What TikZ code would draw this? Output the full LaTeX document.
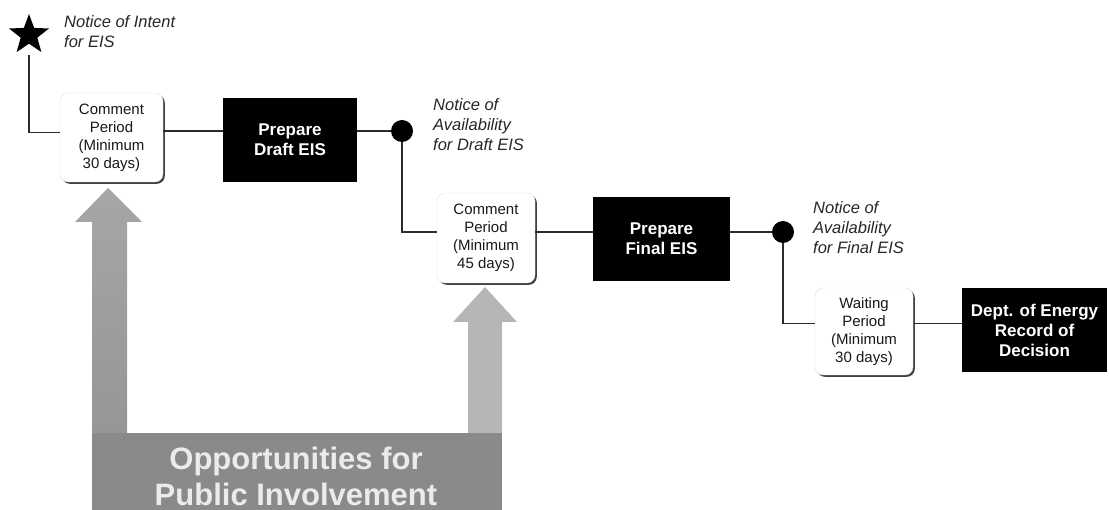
\documentclass[tikz,border=0pt]{standalone}
\usepackage{fontspec}
\setmainfont{Liberation Sans}
\usepackage{xcolor}
\definecolor{LinkGray}{HTML}{2B2B2B}
\definecolor{BandGray}{HTML}{8A8A8A}
\definecolor{ShaftGray}{HTML}{969696}
\definecolor{HeadGray}{HTML}{A6A6A6}
\definecolor{RightGray}{HTML}{B6B6B6}
\usetikzlibrary{positioning,shapes.geometric,shadows}

\begin{document}
\begin{tikzpicture}[
  x=1pt, y=-1pt,
  period/.style={rounded corners=8pt, fill=white, draw=black!12, minimum width=98pt, minimum height=88pt, align=center, text=black!90, font=\fontsize{15}{18}\selectfont, drop shadow={shadow xshift=1.8pt, shadow yshift=-1.8pt, fill=black!75, opacity=1}},
  task/.style={fill=black, minimum width=136pt, minimum height=84pt, align=center, text=white, font=\bfseries\fontsize{17}{20}\selectfont},
  milestone/.style={circle, fill=black, minimum size=22pt, inner sep=0pt},
  notice/.style={anchor=west, align=left, inner sep=0pt, text=black!85, font=\itshape\fontsize{16.5}{20}\selectfont},
  link/.style={line width=1.8pt, draw=LinkGray},
]
\useasboundingbox (0,0) rectangle (1109,510);

% public involvement band and arrows
\fill[BandGray] (92,433) rectangle (502,510);
\shade[top color=HeadGray, bottom color=ShaftGray] (92,433) -- (92,222) -- (75,222) -- (108,188) -- (142,222) -- (127,222) -- (127,433) -- cycle;
\fill[RightGray] (468,433) -- (468,322) -- (453,322) -- (485,287) -- (517,322) -- (502,322) -- (502,433) -- cycle;
\node[font=\bfseries\fontsize{31}{36}\selectfont, text=white!92!black, align=center] (opp) at (296,476) {Opportunities for\\Public Involvement};

% steps
\node[star, star points=5, star point ratio=2.4, fill=black, minimum size=42pt, inner sep=0pt] (intent) at (29,35) {};
\node[notice] (intentlbl) at (64,32) {Notice of Intent\\for EIS};
\node[period, minimum width=103pt, minimum height=89pt] (cpdraft) at (111.5,137.5) {Comment\\Period\\(Minimum\\30 days)};
\node[task, minimum width=134pt] (draft) at (290,140) {Prepare\\Draft EIS};
\node[milestone] (nadraft) at (402,131) {};
\node[notice] (nadraftlbl) at (433,125) {Notice of\\Availability\\for Draft EIS};
\node[period, minimum height=90pt] (cpfinal) at (486,238) {Comment\\Period\\(Minimum\\45 days)};
\node[task, minimum width=137pt] (final) at (661.5,239) {Prepare\\Final EIS};
\node[milestone] (nafinal) at (783,232) {};
\node[notice] (nafinallbl) at (813,228) {Notice of\\Availability\\for Final EIS};
\node[period, minimum height=87pt] (wait) at (864,331.5) {Waiting\\Period\\(Minimum\\30 days)};
\node[task, minimum width=145pt] (rod) at (1034.5,330) {Dept. of Energy\\Record of\\Decision};

% connectors
\draw[link, shorten <=20pt] (intent.center) |- ([yshift=5pt]cpdraft.west);
\draw[link] (cpdraft.east |- nadraft) -- (draft.west |- nadraft);
\draw[link] (draft.east |- nadraft) -- (nadraft);
\draw[link] (nadraft) |- (cpfinal.west |- nafinal);
\draw[link] (cpfinal.east |- nafinal) -- (final.west |- nafinal);
\draw[link] (final.east |- nafinal) -- (nafinal);
\draw[link] (nafinal) |- ([yshift=8pt]wait.west);
\draw[link] ([yshift=8pt]wait.east) -- ([yshift=8pt]wait.east -| rod.west);
\end{tikzpicture}
\end{document}
